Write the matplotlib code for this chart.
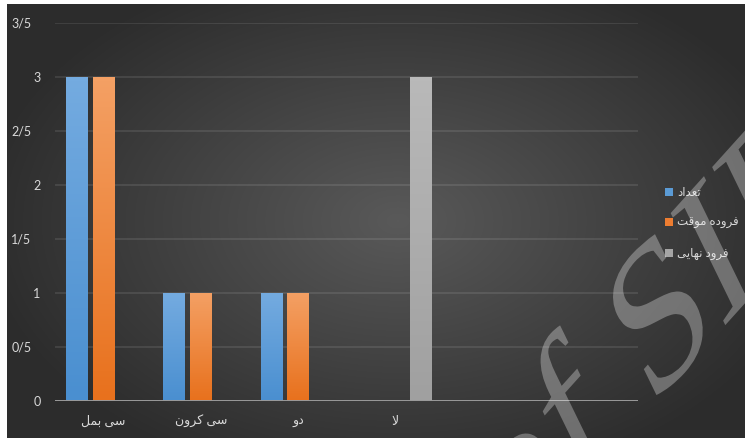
import numpy as np
import matplotlib
matplotlib.use("Agg")
import matplotlib.pyplot as plt
from matplotlib.patches import Patch
from matplotlib.colors import LinearSegmentedColormap
from matplotlib.transforms import ScaledTranslation, Affine2D
from matplotlib import patheffects

# ---- data -------------------------------------------------------------
categories = ["سی بمل", "سی کرون", "دو", "لا", "", ""]
series_names = ["تعداد", "فروده موقت", "فرود نهایی"]
count_vals = [3, 1, 1, 0, 0, 0]
temp_vals = [3, 1, 1, 0, 0, 0]
final_vals = [0, 0, 0, 3, 0, 0]
y_ticks = [0, 0.5, 1, 1.5, 2, 2.5, 3, 3.5]
y_tick_labels = ["0", "0/5", "1", "1/5", "2", "2/5", "3", "3/5"]

# colours: (solid, top of gradient, bottom of gradient)
series_colors = [
    ("#5b9bd5", "#74abe0", "#4a8fd0"),
    ("#ed7d31", "#f4a064", "#e8711d"),
    ("#a5a5a5", "#b9b9b9", "#a0a0a0"),
]

# ---- simple Arabic/Persian shaping (contextual forms + visual order) ---
FORMS = {
    "ا": ("\uFE8D", "\uFE8E", None, None),
    "ب": ("\uFE8F", "\uFE90", "\uFE91", "\uFE92"),
    "ت": ("\uFE95", "\uFE96", "\uFE97", "\uFE98"),
    "د": ("\uFEA9", "\uFEAA", None, None),
    "ر": ("\uFEAD", "\uFEAE", None, None),
    "س": ("\uFEB1", "\uFEB2", "\uFEB3", "\uFEB4"),
    "ع": ("\uFEC9", "\uFECA", "\uFECB", "\uFECC"),
    "ف": ("\uFED1", "\uFED2", "\uFED3", "\uFED4"),
    "ق": ("\uFED5", "\uFED6", "\uFED7", "\uFED8"),
    "ل": ("\uFEDD", "\uFEDE", "\uFEDF", "\uFEE0"),
    "م": ("\uFEE1", "\uFEE2", "\uFEE3", "\uFEE4"),
    "ن": ("\uFEE5", "\uFEE6", "\uFEE7", "\uFEE8"),
    "ه": ("\uFEE9", "\uFEEA", "\uFEEB", "\uFEEC"),
    "و": ("\uFEED", "\uFEEE", None, None),
    "ک": ("\uFB8E", "\uFB8F", "\uFB90", "\uFB91"),
    "ی": ("\uFBFC", "\uFBFD", "\uFBFE", "\uFBFF"),
}


def shape(text):
    chars = list(text)
    out = []
    i = 0
    while i < len(chars):
        c = chars[i]
        prev = chars[i - 1] if i > 0 else None
        joins_prev = prev in FORMS and FORMS[prev][2] is not None and c in FORMS
        if c == "ل" and i + 1 < len(chars) and chars[i + 1] == "ا":
            out.append("\uFEFC" if joins_prev else "\uFEFB")
            i += 2
            continue
        if c not in FORMS:
            out.append(c)
            i += 1
            continue
        nxt = chars[i + 1] if i + 1 < len(chars) else None
        joins_next = FORMS[c][2] is not None and nxt in FORMS
        iso, fin, ini, med = FORMS[c]
        if joins_prev and joins_next:
            out.append(med)
        elif joins_prev:
            out.append(fin)
        elif joins_next:
            out.append(ini)
        else:
            out.append(iso)
        i += 1
    return "".join(reversed(out))


class SlantedText(patheffects.AbstractPathEffect):
    """Draw text through a linear map applied about an anchor (display px)."""

    def __init__(self, anchor, base_deg, up_deg):
        super().__init__()
        self.anchor = anchor
        b, u = np.radians(base_deg), np.radians(up_deg)
        self.matrix = np.array([[np.cos(b), np.cos(u), 0],
                                [np.sin(b), np.sin(u), 0],
                                [0, 0, 1]])

    def draw_path(self, renderer, gc, tpath, affine, rgbFace=None):
        ax_, ay_ = self.anchor
        extra = (Affine2D().translate(-ax_, -ay_) + Affine2D(self.matrix)
                 + Affine2D().translate(ax_, ay_))
        renderer.draw_path(gc, tpath, affine + extra, rgbFace)


plt.rcParams["font.family"] = ["Lato", "DejaVu Sans"]
TEXT_COLOR = "#d9d9d9"

W, H = 745, 438
fig = plt.figure(figsize=(W / 100, H / 100), dpi=100, facecolor="white")

# dark radial background of the chart area
bg_ax = fig.add_axes([7 / W, 0, 1 - 7 / W, (H - 4) / H])
bg_ax.set_axis_off()
gx, gy = np.meshgrid(np.linspace(0, 1, 400), np.linspace(0, 1, 240))
r = np.sqrt(((gx - 0.53) / 0.5) ** 2 + ((gy - 0.5) / 0.55) ** 2)
val = np.clip(0.35 - 0.155 * r, 0.175, 1)
bg = np.dstack([val, val, val])
bg_ax.imshow(bg, extent=[0, 1, 0, 1], aspect="auto", origin="lower",
             interpolation="bicubic")
bg_ax.set_xlim(0, 1)
bg_ax.set_ylim(0, 1)

ax = fig.add_axes([55 / W, 37.3 / H, (638 - 55) / W, (400.7 - 22.7) / H])
ax.set_facecolor("none")

x = np.arange(len(categories))
bar_w = 0.225
step = 0.271
all_vals = [count_vals, temp_vals, final_vals]
for k, (vals, cols) in enumerate(zip(all_vals, series_colors)):
    solid, top, bottom = cols
    bars = ax.bar(x + (k - 1) * step, vals, bar_w, color=solid,
                  linewidth=0, zorder=3)
    cmap = LinearSegmentedColormap.from_list("g%d" % k, [bottom, top])
    grad = np.linspace(0, 1, 64).reshape(-1, 1)
    for patch in bars:
        h = patch.get_height()
        if h <= 0:
            continue
        x0 = patch.get_x()
        im = ax.imshow(grad, cmap=cmap, extent=[x0, x0 + bar_w, 0, h],
                       aspect="auto", origin="lower", zorder=4,
                       interpolation="bilinear")
        im.set_clip_path(patch)

ax.set_xlim(-0.5, len(categories) - 0.5)
ax.set_ylim(0, 3.5)

ax.set_yticks(y_ticks)
ax.set_yticklabels(y_tick_labels)
ax.set_xticks(x)
ax.set_xticklabels([shape(c) for c in categories])
ax.tick_params(axis="y", length=0, pad=10.5, labelsize=9, labelcolor=TEXT_COLOR)
ax.tick_params(axis="x", length=0, pad=10, labelsize=9, labelcolor=TEXT_COLOR)
for lbl in ax.get_yticklabels():
    if "/" in lbl.get_text():
        lbl.set_transform(lbl.get_transform() +
                          ScaledTranslation(-9 / 100, 0, fig.dpi_scale_trans))

for s in ax.spines.values():
    s.set_visible(False)
ax.grid(axis="y", color="white", alpha=0.12, linewidth=1.1, zorder=1)
ax.set_axisbelow(True)
ax.axhline(0, color="#9a9a9a", linewidth=1.4, zorder=5)

handles = [Patch(facecolor=c[0], edgecolor="none") for c in series_colors]
leg = fig.legend(handles, [shape(n) for n in series_names],
                 loc="upper left", bbox_to_anchor=(665 / W, 1 - 187 / H),
                 frameon=False, fontsize=8.5, handlelength=0.7,
                 handleheight=0.7, handletextpad=0.3, labelspacing=1.6,
                 borderpad=0, borderaxespad=0)
for t in leg.get_texts():
    t.set_color(TEXT_COLOR)

# slanted watermark across the lower right
wm_x, wm_y = 512, 562  # baseline start, pixels from top-left
fig.text(wm_x / W, 1 - wm_y / H, "of SID", fontfamily="Liberation Serif",
         fontsize=137, color="white", alpha=0.3, ha="left", va="baseline",
         zorder=10,
         path_effects=[SlantedText((wm_x, H - wm_y), 48, 116)])

fig.savefig("out.png", dpi=100, facecolor=fig.get_facecolor())
